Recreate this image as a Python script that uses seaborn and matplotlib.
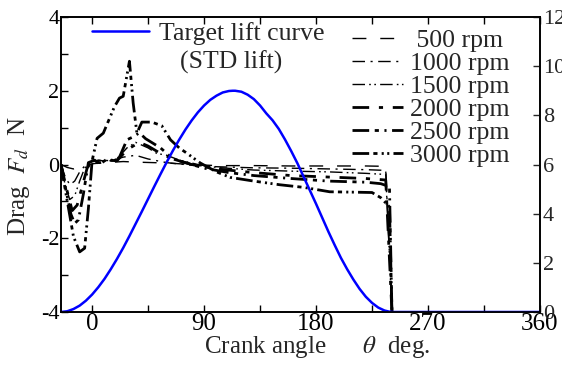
import matplotlib
matplotlib.use("Agg")
import matplotlib.pyplot as plt
import seaborn as sns
from matplotlib.lines import Line2D
from matplotlib.ticker import MultipleLocator

# ---------------- data ----------------
th500 = [-25, -20, -15, -10, -5, 0, 10, 25, 40, 60, 80, 100, 130, 160, 190, 220, 236, 241]
f500 = [0, -0.08, -0.12, -0.08, -0.03, 0.02, 0.05, 0.08, 0.06, 0.04, 0.0, -0.03, -0.03, -0.04, -0.04, -0.04, -0.05, -4]

th1000 = [-25, -22, -18, -14, -10, -5, 0, 8, 15, 25, 35, 45, 60, 80, 100, 130, 160, 190, 220, 236, 241]
f1000 = [0, -0.3, -0.55, -0.45, -0.2, 0.0, 0.08, 0.12, 0.1, 0.2, 0.25, 0.15, 0.05, -0.02, -0.06, -0.09, -0.1, -0.12, -0.14, -0.16, -4]

th1500 = [-25, -22, -18, -14, -10, -6, -2, 5, 12, 20, 28, 35, 45, 52, 60, 70, 85, 100, 130, 160, 190, 220, 236, 241]
f1500 = [0, -0.5, -0.95, -0.85, -0.45, -0.1, 0.05, 0.12, 0.08, 0.15, 0.45, 0.6, 0.45, 0.3, 0.25, 0.12, 0.0, -0.08, -0.15, -0.18, -0.2, -0.24, -0.27, -4]

th2000 = [-25, -21, -16, -12, -8, -4, 0, 6, 12, 20, 28, 38, 45, 55, 65, 80, 100, 130, 160, 190, 220, 236, 241]
f2000 = [0, -0.6, -1.25, -1.1, -0.6, -0.1, 0.1, 0.05, 0.12, 0.1, 0.4, 0.6, 0.5, 0.3, 0.15, 0.0, -0.12, -0.22, -0.3, -0.34, -0.38, -0.42, -4]

th2500 = [-25, -21, -17, -14, -11, -7, -3, 2, 6, 12, 18, 22, 28, 33, 38, 43, 55, 65, 75, 90, 110, 130, 160, 190, 220, 232, 239, 241]
f2500 = [0, -0.7, -1.35, -1.6, -1.5, -0.8, 0.05, 0.12, 0.0, 0.15, 0.1, 0.2, 0.67, 0.75, 0.86, 0.7, 0.45, 0.15, 0.05, -0.1, -0.22, -0.3, -0.38, -0.45, -0.48, -0.52, -0.6, -4]

th3000 = [-25, -22, -15, -10, -6, -3, 0, 4, 9, 18, 22, 25, 30, 33, 36, 40, 48, 56, 63, 70, 76, 87, 100, 111, 130, 151, 170, 191, 210, 225, 232, 239, 241]
f3000 = [0, -0.6, -1.95, -2.37, -2.27, -1.2, 0.1, 0.71, 0.85, 1.57, 1.8, 1.85, 2.8, 1.67, 0.85, 1.15, 1.15, 1.05, 0.67, 0.45, 0.31, 0.04, -0.2, -0.35, -0.45, -0.55, -0.62, -0.74, -0.75, -0.76, -0.9, -1.15, -4]

lift_theta = [-25, -20, -15, -10, -5, 0, 5, 10, 15, 20, 25, 30, 35, 40, 45, 50, 55, 60,
              65, 70, 75, 80, 85, 90, 95, 100, 105, 110, 113, 115, 120, 125, 130, 135,
              140, 145, 150, 155, 160, 165, 170, 175, 180, 185, 190, 195, 200, 205,
              210, 215, 220, 225, 230, 235, 239, 242, 360]
lift_mm = [0, 0.03, 0.12, 0.26, 0.46, 0.71, 1.01, 1.35, 1.74, 2.16, 2.61, 3.09, 3.59, 4.09,
           4.60, 5.11, 5.61, 6.10, 6.57, 7.01, 7.42, 7.79, 8.12, 8.40, 8.63, 8.80, 8.93,
           8.99, 9.0, 9.0, 8.96, 8.84, 8.66, 8.40, 8.08, 7.80, 7.45, 7.02, 6.55, 6.05, 5.5,
           4.95, 4.4, 3.83, 3.26, 2.72, 2.2, 1.74, 1.32, 0.94, 0.62, 0.37, 0.18, 0.06,
           0.012, 0, 0]

rpm_labels = [" 500 rpm", "1000 rpm", "1500 rpm", "2000 rpm", "2500 rpm", "3000 rpm"]
lift_label = "Target lift curve"

# ---------------- style ----------------
sns.set_style("ticks")
plt.rcParams["font.family"] = ["Liberation Serif", "DejaVu Serif"]
plt.rcParams["mathtext.fontset"] = "stix"
plt.rcParams["lines.scale_dashes"] = False
plt.rcParams["axes.unicode_minus"] = False

series = [
    (th500, f500, 1.0, (0, (10, 10))),
    (th1000, f1000, 1.0, (0, (9, 4, 1.5, 4))),
    (th1500, f1500, 1.0, (0, (9, 3, 1.2, 2.5, 1.2, 3))),
    (th2000, f2000, 2.0, (0, (12, 7, 3, 7))),
    (th2500, f2500, 2.0, (0, (12, 4, 3, 4, 1.5, 4))),
    (th3000, f3000, 2.0, (0, (12, 3, 3, 3, 1.5, 2.5, 1.5, 3))),
]

fig = plt.figure(figsize=(5.62, 3.67), dpi=100)
ax = fig.add_axes([61 / 562, 1 - 312 / 367, 479 / 562, 295 / 367])

handles = []
for th, f, lw, ls in series:
    sns.lineplot(x=th, y=f, ax=ax, color="black", lw=lw, linestyle=ls,
                 estimator=None, sort=False)
    handles.append(Line2D([], [], color="black", lw=lw, linestyle=ls))

ax.set_xlim(-25, 360)
ax.set_ylim(-4, 4)
ax.xaxis.set_major_locator(MultipleLocator(90))
ax.xaxis.set_minor_locator(MultipleLocator(45))
ax.yaxis.set_major_locator(MultipleLocator(2))
ax.yaxis.set_minor_locator(MultipleLocator(1))
ax.tick_params(which="both", direction="in", top=True, right=False,
               length=5, width=1, colors="black")
ax.tick_params(axis="x", labelsize=18, pad=1)
ax.tick_params(axis="y", labelsize=16, pad=1)

ax2 = ax.twinx()
sns.lineplot(x=lift_theta, y=lift_mm, ax=ax2, color="#0000ff", lw=1.8,
             estimator=None, sort=False)
ax2.set_ylim(0, 12)
ax2.yaxis.set_major_locator(MultipleLocator(2))
ax2.tick_params(axis="y", direction="in", length=5, width=1, labelsize=16, pad=2)
ax2.set_ylabel("")

for a in (ax, ax2):
    for s in a.spines.values():
        s.set_linewidth(1.2)
        s.set_color("black")
        s.set_visible(True)

ax.set_xlabel("Crank angle      $\\theta$  deg.", fontsize=18)
ax.xaxis.set_label_coords(0.535, -0.075)
ax.set_ylabel("Drag  $F_d$  N", fontsize=18)
ax.yaxis.set_label_coords(-0.06, 0.46)

leg1 = ax2.legend([Line2D([], [], color="#0000ff", lw=1.8)], [lift_label],
                  loc="upper left", bbox_to_anchor=(92 / 562, 1 - 22 / 367),
                  bbox_transform=fig.transFigure, frameon=False, fontsize=18.5,
                  handlelength=2.2, handletextpad=0.4, borderpad=0, borderaxespad=0)
ax2.add_artist(leg1)
fig.text(231 / 562, 1 - 62 / 367, "(STD lift)", ha="center", va="center", fontsize=18.5)

ax2.legend(handles, rpm_labels, loc="upper left",
           bbox_to_anchor=(352 / 562, 1 - 29 / 367), bbox_transform=fig.transFigure,
           frameon=False, fontsize=18.5, labelspacing=0.0, handlelength=2.0,
           handletextpad=0.25, borderpad=0, borderaxespad=0)

fig.savefig("out.png", dpi=100)
